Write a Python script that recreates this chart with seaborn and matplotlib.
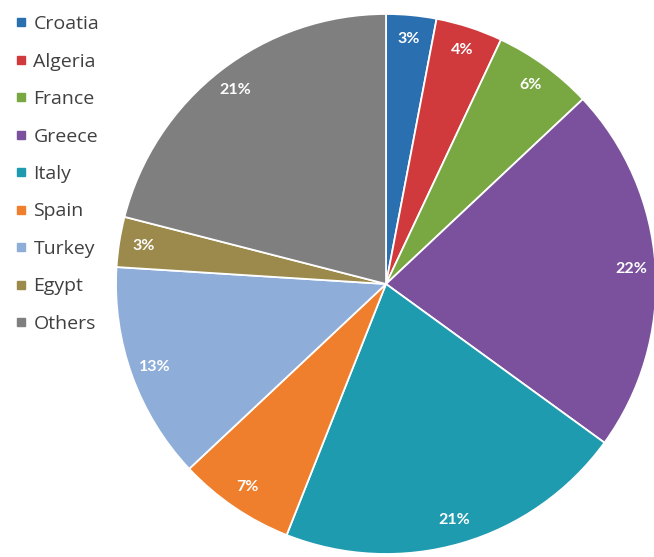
import matplotlib
matplotlib.use("Agg")
import matplotlib.pyplot as plt
from matplotlib.lines import Line2D
import seaborn as sns

countries = ["Croatia", "Algeria", "France", "Greece", "Italy", "Spain", "Turkey", "Egypt", "Others"]
shares = [3, 4, 6, 22, 21, 7, 13, 3, 21]
colors = ["#2a6fb0", "#d03a3c", "#79a843", "#7b509c", "#1f9bb0", "#ef7f2d", "#8eadd8", "#9c8a4c", "#7f7f7f"]

sns.set_theme(style="white")
plt.rcParams["font.family"] = ["Open Sans", "DejaVu Sans"]

fig = plt.figure(figsize=(6.54, 5.57), dpi=100)
ax = fig.add_axes([0.1774, 0.0054, 0.8257, 0.9695])

wedges, texts, autotexts = ax.pie(
    shares, colors=colors, startangle=90, counterclock=False,
    autopct=lambda p: f"{p:.0f}%", pctdistance=0.91,
    wedgeprops=dict(edgecolor="white", linewidth=1.3),
    textprops=dict(color="white", fontweight="bold", fontsize=11.5, family=["Lato", "DejaVu Sans"]),
)
ax.set_xlim(-1, 1)
ax.set_ylim(-1, 1)
ax.set_aspect("equal")
ax.axis("off")

handles = [Line2D([0], [0], marker="s", linestyle="", markersize=5.5,
                  markerfacecolor=c, markeredgecolor=c) for c in colors]
fig.legend(handles, countries, loc="upper left", bbox_to_anchor=(0.002, 0.9936),
           frameon=False, fontsize=14, labelspacing=1.0, handlelength=0.8,
           handletextpad=0.25, borderaxespad=0.2, labelcolor="#404040")

fig.savefig("out.png", dpi=100)
